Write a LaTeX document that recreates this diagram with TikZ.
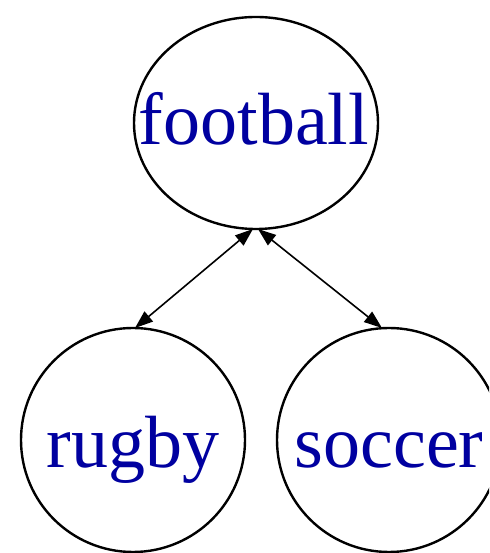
\documentclass[tikz,border=0pt]{standalone}
\usepackage{fontspec}
\setmainfont{Liberation Serif}
\usetikzlibrary{arrows.meta}
\definecolor{labelblue}{RGB}{0,0,160}
\tikzset{
  sport/.style={inner sep=0pt, anchor=base, font=\fontsize{74}{74}\selectfont, text=labelblue},
  outline/.style={draw=black, line width=2.4pt},
  tipshape/.tip={Triangle[length=18pt,width=13pt]},
  link/.style={tipshape-tipshape, line width=1.6pt}
}
\begin{document}
\begin{tikzpicture}[x=1pt,y=1pt]
  \useasboundingbox (0,0) rectangle (489,553);
  \clip (0,0) rectangle (489,553);
  % labels, placed by their baselines
  \node[sport] (football) at (254,408) {football};
  \node[sport] (rugby) at (133,85) {rugby};
  \node[sport] (soccer) at (389,85) {soccer};
  % outline centres
  \coordinate (football-c) at (256,430);
  \coordinate (rugby-c) at (133,113);
  \coordinate (soccer-c) at (389,113);
  \draw[outline] (football-c) ellipse [x radius=122, y radius=106];
  \draw[outline] (rugby-c) circle [radius=112];
  \draw[outline] (soccer-c) circle [radius=112];
  % edge end points on the outlines
  \coordinate (football-sw) at ([xshift=-3pt,yshift=-106pt]football-c);
  \coordinate (football-se) at ([xshift=2pt,yshift=-106pt]football-c);
  \coordinate (rugby-n) at ([xshift=2pt,yshift=112pt]rugby-c);
  \coordinate (soccer-n) at ([xshift=-7pt,yshift=112pt]soccer-c);
  \draw[link] (football-sw) -- (rugby-n);
  \draw[link] (football-se) -- (soccer-n);
\end{tikzpicture}
\end{document}
